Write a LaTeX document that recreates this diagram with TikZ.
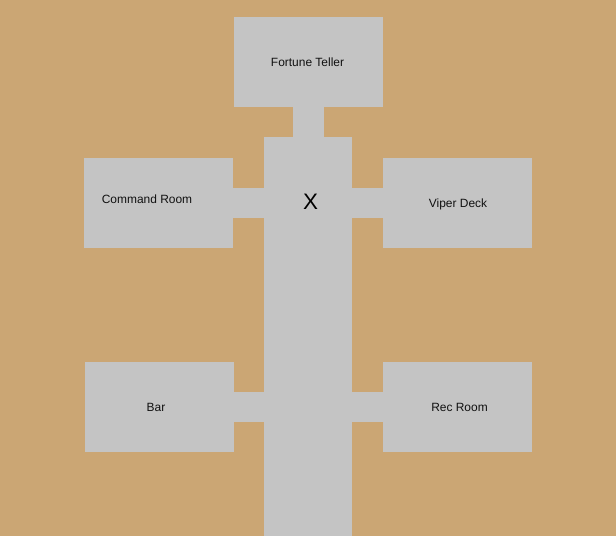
\documentclass[tikz,border=0pt]{standalone}
\usepackage{fontspec}
\setmainfont{Liberation Sans}
\definecolor{ground}{HTML}{CBA674}
\definecolor{floorgray}{HTML}{C4C4C4}
\definecolor{labelink}{HTML}{111111}
\tikzset{
  x=1bp,y=-1bp,
  room/.style={fill=floorgray,draw=none,inner sep=0pt,outer sep=0pt,minimum width=149bp,minimum height=90bp},
  hallway/.style={fill=floorgray,draw=none,inner sep=0pt,outer sep=0pt,minimum width=88bp,minimum height=399bp},
  passage/.style={draw=floorgray,line width=30bp,line cap=butt},
  roomlabel/.style={font=\fontsize{12}{14}\selectfont,text=labelink,inner sep=0pt},
  marker/.style={font=\fontsize{22.5}{26}\selectfont,text=black,inner sep=0pt}
}
\begin{document}
\begin{tikzpicture}
\useasboundingbox (0,0) rectangle (616,536);
\fill[ground] (0,0) rectangle (616,536);
\node[hallway] (hall) at (308,336.5) {};
\node[room] (fortune) at (308.5,62) {};
\node[room] (command) at (158.5,203) {};
\node[room] (viper) at (457.5,203) {};
\node[room] (bar) at (159.5,407) {};
\node[room] (rec) at (457.5,407) {};
\draw[passage,line width=31bp] (fortune.south) -- (fortune.south |- hall.north);
\draw[passage] (command.east) -- (command.east -| hall.west);
\draw[passage] (viper.west) -- (viper.west -| hall.east);
\draw[passage] (bar.east) -- (bar.east -| hall.west);
\draw[passage] (rec.west) -- (rec.west -| hall.east);
\node[roomlabel] (lfortune) at (307.5,62) {Fortune Teller};
\node[roomlabel] (lcommand) at (147,199) {Command Room};
\node[roomlabel] (lviper) at (458,204) {Viper Deck};
\node[roomlabel] (lbar) at (156,407) {Bar};
\node[roomlabel] (lrec) at (459.5,407) {Rec Room};
\node[marker] (x) at (310.5,201.5) {X};
\end{tikzpicture}
\end{document}
